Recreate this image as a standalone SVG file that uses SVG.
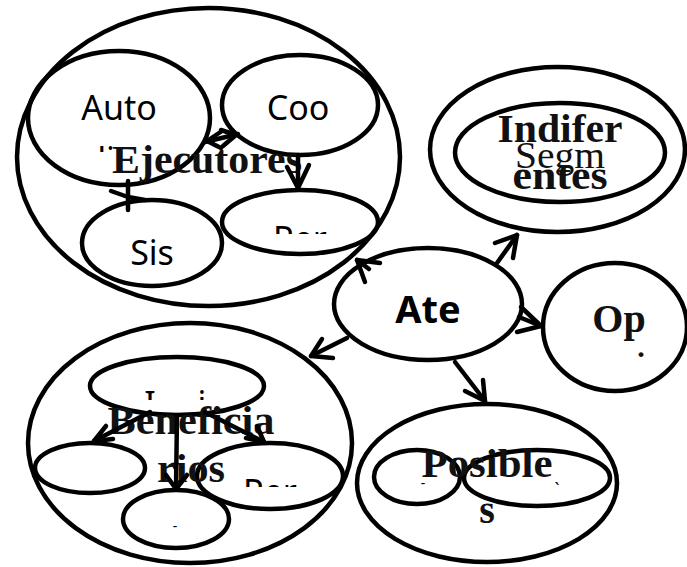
<svg xmlns="http://www.w3.org/2000/svg" width="687" height="567" viewBox="0 0 687 567">
<style>
.n{fill:none;stroke:#000;stroke-width:4.5}
.c line,.c polyline{fill:none;stroke:#000;stroke-width:4.5;stroke-linecap:round;stroke-linejoin:round}
.s{font-family:"Noto Sans","Open Sans",sans-serif;font-size:34px;fill:#000;text-anchor:middle}
.sb{font-family:"Noto Sans","Open Sans",sans-serif;font-size:38px;font-weight:bold;fill:#000;text-anchor:middle}
.b{font-family:"Liberation Serif","Times New Roman",serif;font-size:40px;font-weight:bold;fill:#111;text-anchor:middle}
.r{font-family:"Liberation Serif","Times New Roman",serif;font-size:37px;fill:#111;text-anchor:middle}
</style>
<defs>
<clipPath id="cAuto"><rect x="60" y="100" width="120" height="52"/></clipPath>
<clipPath id="cPer1"><rect x="230" y="200" width="140" height="34"/></clipPath>
<clipPath id="cInst"><rect x="100" y="370" width="160" height="30"/></clipPath>
<clipPath id="cPer2"><rect x="210" y="450" width="130" height="37"/></clipPath>
</defs>
<rect width="687" height="567" fill="#fff"/>

<g id="ejecutores">
<ellipse class="n" cx="208.5" cy="157" rx="191.5" ry="149"/>
<g id="auto">
<ellipse class="n" cx="119" cy="118" rx="91" ry="67"/>
<text class="s" x="119" y="120">Auto</text>
<text class="s" x="100" y="172" clip-path="url(#cAuto)">di</text>
</g>
<g id="coo">
<ellipse class="n" cx="300" cy="105" rx="78" ry="50"/>
<text class="s" x="298" y="120">Coo</text>
</g>
<g id="per1">
<ellipse class="n" cx="300" cy="222" rx="78" ry="32"/>
<text class="s" x="300" y="251" clip-path="url(#cPer1)">Per</text>
</g>
<g id="sis">
<ellipse class="n" cx="152" cy="243" rx="70" ry="43"/>
<text class="s" x="152" y="265">Sis</text>
</g>
<text class="b" x="207" y="173" textLength="190" lengthAdjust="spacingAndGlyphs">Ejecutores</text>
</g>

<g id="indiferentes">
<ellipse class="n" cx="557.5" cy="149.5" rx="127.5" ry="82.5"/>
<g id="segm">
<ellipse class="n" cx="560" cy="152.5" rx="105" ry="49.5"/>
<text class="r" x="560" y="168" textLength="90" lengthAdjust="spacingAndGlyphs">Segm</text>
</g>
<text class="b" x="560" y="142" textLength="125" lengthAdjust="spacingAndGlyphs">Indifer</text>
<text class="b" x="560" y="189" textLength="95" lengthAdjust="spacingAndGlyphs">entes</text>
</g>

<g id="ate">
<ellipse class="n" cx="428" cy="304" rx="94" ry="56"/>
<text class="sb" x="428" y="323">Ate</text>
</g>

<g id="op">
<ellipse class="n" cx="615" cy="327" rx="72" ry="64"/>
<text class="b" x="619" y="332">Op</text>
<text class="b" x="641" y="357" style="font-size:30px">.</text>
</g>

<g id="posibles">
<ellipse class="n" cx="487" cy="483" rx="130" ry="79"/>
<g id="pos1">
<ellipse class="n" cx="417" cy="477" rx="43" ry="27"/>
<text x="423" y="488" style="font-family:'Noto Sans',sans-serif;font-size:14px;text-anchor:middle">-</text>
</g>
<g id="pos2">
<ellipse class="n" cx="537" cy="478" rx="73" ry="28"/>
<text x="557" y="496" style="font-family:'Noto Sans',sans-serif;font-size:18px;text-anchor:middle">`</text>
</g>
<text class="b" x="487" y="477" textLength="131" lengthAdjust="spacingAndGlyphs">Posible</text>
<text class="b" x="487" y="523">s</text>
</g>

<g id="beneficiarios">
<ellipse class="n" cx="190" cy="443" rx="162" ry="120"/>
<g id="inst">
<ellipse class="n" cx="177" cy="386" rx="87" ry="29"/>
<text class="s" y="416" clip-path="url(#cInst)"><tspan x="150">I</tspan><tspan x="202">i</tspan></text>
</g>
<g id="ben-left">
<ellipse class="n" cx="90" cy="468" rx="55" ry="25"/>
</g>
<g id="per2">
<ellipse class="n" cx="270" cy="476" rx="73" ry="33"/>
<text class="s" x="270" y="504" clip-path="url(#cPer2)">Per</text>
</g>
<g id="ben-bottom">
<ellipse class="n" cx="176" cy="519" rx="53" ry="29"/>
<text x="175" y="531" style="font-family:'Noto Sans',sans-serif;font-size:14px;text-anchor:middle">-</text>
</g>
<text class="b" x="191" y="434" textLength="167" lengthAdjust="spacingAndGlyphs">Beneficia</text>
<text class="b" x="191" y="482" textLength="68" lengthAdjust="spacingAndGlyphs">rios</text>
</g>

<g id="connectors" class="c">
<line x1="205" y1="142" x2="238" y2="134"/>
<polyline points="222,131 207,141 221,148"/>
<polyline points="221,130 236,135 223,146"/>
<line x1="298" y1="155" x2="298" y2="188"/>
<polyline points="287,167 298,188 309,165"/>
<line x1="128" y1="181" x2="128" y2="210"/>
<polyline points="111,191 128,197 145,200"/>
<line x1="369" y1="269" x2="357" y2="260"/>
<polyline points="380,263 357,260 365,282"/>
<line x1="497" y1="263" x2="517" y2="235"/>
<polyline points="495,243 517,235 513,258"/>
<line x1="519" y1="317" x2="541" y2="326"/>
<polyline points="521,307 541,326 517,332"/>
<line x1="347" y1="338" x2="311" y2="356"/>
<polyline points="322,339 311,356 333,358"/>
<line x1="455" y1="362" x2="485" y2="401"/>
<polyline points="465,391 485,401 483,380"/>
<line x1="150" y1="412" x2="94" y2="441"/>
<polyline points="106,426 94,441 113,439"/>
<line x1="205" y1="412" x2="264" y2="442"/>
<polyline points="246,438 264,442 257,426"/>
<line x1="177" y1="415" x2="176" y2="489"/>
<polyline points="166,475 176,489 187,475"/>
</g>
</svg>
